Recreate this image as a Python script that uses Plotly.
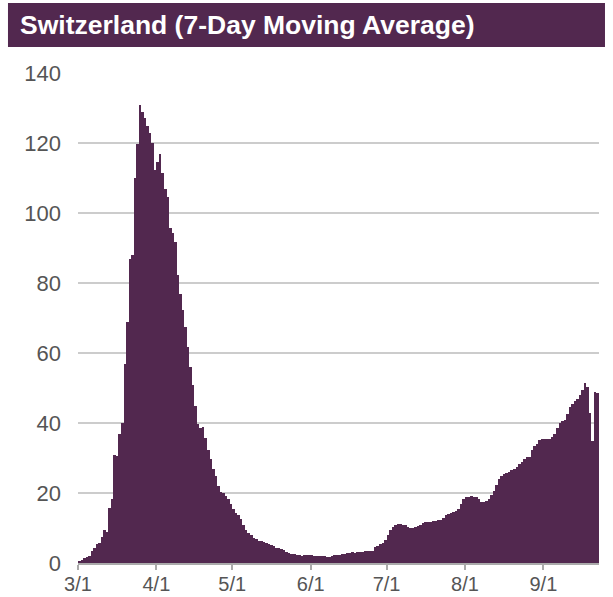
import datetime as dt
import plotly.graph_objects as go

# --- data (7-day moving average, daily from 2020-03-01) ---
start_date = "2020-03-01"
march = [0.5, 1.0, 1.3, 1.6, 2.0, 3.5, 4.2, 5.3, 5.8, 7.3, 9.4, 9.0, 15.6, 18.2, 31.0, 30.7,
         36.9, 39.9, 57.0, 69.0, 86.9, 88.0, 110.0, 119.6, 131.0, 129.0, 127.2, 124.9, 122.8,
         119.9, 112.3]
april = [114.7, 116.9, 111.3, 107.0, 104.7, 95.6, 94.2, 91.8, 82.3, 76.8, 72.3, 67.3, 61.8,
         56.1, 51.0, 44.9, 39.7, 38.5, 38.8, 35.6, 32.3, 29.6, 26.8, 24.9, 22.0, 20.4, 19.9,
         19.1, 18.2, 17.0]
may = [15.5, 14.2, 13.8, 12.5, 10.9, 9.4, 8.5, 8.0, 7.2, 6.8, 6.4, 6.2, 6.0, 5.8, 5.5, 5.2,
       5.0, 4.4, 4.2, 4.0, 3.6, 3.1, 2.8, 2.6, 2.5, 2.4, 2.3, 2.1, 2.2, 2.2, 2.2]
june = [2.2, 2.1, 2.1, 2.1, 2.0, 1.9, 1.8, 1.8, 2.0, 2.2, 2.3, 2.4, 2.6, 2.7, 2.9, 3.0, 3.1,
        3.0, 3.1, 3.1, 3.1, 3.3, 3.3, 3.4, 3.5, 4.5, 4.8, 5.4, 5.6, 6.5]
july = [8.0, 9.5, 10.4, 10.8, 11.1, 11.1, 11.0, 10.8, 10.4, 10.0, 10.1, 10.4, 10.7, 11.0,
        11.3, 11.7, 11.8, 11.7, 11.9, 12.1, 12.2, 12.3, 13.0, 13.7, 14.0, 14.2, 14.6, 14.9,
        15.5, 17.0, 18.2]
august = [18.8, 19.0, 19.1, 19.0, 18.8, 18.2, 17.5, 17.5, 17.6, 18.2, 19.3, 20.5, 22.2, 24.0,
          25.0, 25.5, 25.8, 26.1, 26.5, 27.0, 27.5, 28.3, 28.9, 29.7, 30.3, 30.4, 32.3, 33.3,
          34.0, 35.1, 35.3]
september = [35.4, 35.4, 35.3, 36.0, 37.0, 38.5, 40.1, 40.6, 41.0, 42.7, 44.5, 45.5, 46.3,
             47.0, 48.0, 49.4, 51.3, 50.3, 43.0, 35.0, 48.9, 48.5]

tick_dates = ["2020-03-01", "2020-04-01", "2020-05-01", "2020-06-01", "2020-07-01",
              "2020-08-01", "2020-09-01"]
tick_labels = ["3/1", "4/1", "5/1", "6/1", "7/1", "8/1", "9/1"]
y_ticks = [0, 20, 40, 60, 80, 100, 120, 140]
title_text = "Switzerland (7-Day Moving Average)"

values = march + april + may + june + july + august + september
d0 = dt.datetime.fromisoformat(start_date)
dates = [d0 + dt.timedelta(days=i) for i in range(len(values))]

PURPLE = "#52284f"
LABEL = "#555555"

fig = go.Figure(go.Bar(
    x=dates, y=values,
    xperiod=86400000, xperiodalignment="middle",
    marker=dict(color=PURPLE, line=dict(width=0)),
    hoverinfo="x+y",
))

x_end = dates[-1] + dt.timedelta(days=1)
fig.update_layout(
    width=613, height=597,
    margin=dict(l=78, r=14, t=73, b=34),
    plot_bgcolor="white", paper_bgcolor="white",
    bargap=0,
    showlegend=False,
    font=dict(family="Liberation Sans, Arial, sans-serif", color=LABEL),
    xaxis=dict(
        type="date",
        range=[d0, x_end],
        tickvals=tick_dates, ticktext=tick_labels,
        tickfont=dict(size=20, color=LABEL),
        ticks="outside", ticklen=5, tickwidth=1.5, tickcolor="#aaaaaa",
        showline=True, linecolor="#aaaaaa", linewidth=2,
        showgrid=False, zeroline=False, automargin=False,
        ticklabelstandoff=-3,
    ),
    yaxis=dict(
        range=[0, 140],
        tickvals=y_ticks,
        tickfont=dict(size=22, color=LABEL),
        showgrid=True, gridcolor="#cccccc", gridwidth=1.5,
        zeroline=False, showline=False, automargin=False,
        ticklabelstandoff=16,
    ),
    shapes=[dict(
        type="rect", xref="paper", yref="paper",
        x0=-0.1344, x1=1.0115, y0=1.0531, y1=1.1429,
        fillcolor=PURPLE, line=dict(width=0), layer="above",
    )],
    annotations=[dict(
        text="<b>" + title_text + "</b>",
        xref="paper", yref="paper", x=-0.1152, y=1.098,
        xanchor="left", yanchor="middle", showarrow=False,
        font=dict(size=26.5, color="white", family="Liberation Sans, Arial, sans-serif"),
    )],
)

fig.write_html("out.html", config={"displayModeBar": False},
               post_script="document.body.style.margin='0';")
